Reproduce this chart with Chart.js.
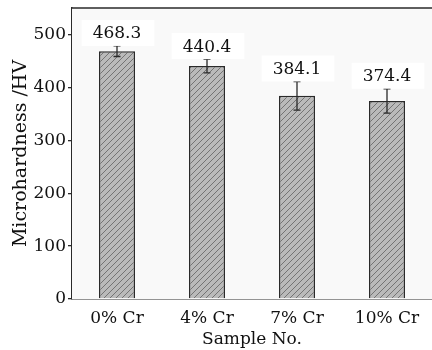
<!DOCTYPE html>
<html>
<head>
<meta charset="utf-8">
<script src="https://cdn.jsdelivr.net/npm/chart.js@4/dist/chart.umd.min.js"></script>
<style>
  html, body { margin: 0; padding: 0; background: #ffffff; }
  #wrap { width: 432px; height: 350px; }
</style>
</head>
<body>
<div id="wrap"><canvas id="c" width="432" height="350"></canvas></div>
<script>
// Microhardness of samples with different Cr content
const categories = ['0% Cr', '4% Cr', '7% Cr', '10% Cr'];
const hardness = [468.3, 440.4, 384.1, 374.4];
const hardnessErr = [10, 13, 27, 23];
const yTicks = [0, 100, 200, 300, 400, 500];

const FONT = "'DejaVu Serif', serif";
const INK = '#2a2a2a';

// Diagonal hatch fill for the bars
function hatchPattern() {
  const s = 6;
  const t = document.createElement('canvas');
  t.width = s; t.height = s;
  const g = t.getContext('2d');
  g.fillStyle = '#bababa';
  g.fillRect(0, 0, s, s);
  g.strokeStyle = '#747474';
  g.lineWidth = 1;
  g.beginPath();
  g.moveTo(-1, s + 1); g.lineTo(s + 1, -1);
  g.moveTo(-1, 1); g.lineTo(1, -1);
  g.moveTo(s - 1, s + 1); g.lineTo(s + 1, s - 1);
  g.stroke();
  return g.createPattern(t, 'repeat');
}

// Error bars, value labels and the top frame line
const extras = {
  id: 'extras',
  beforeDatasetsDraw(chart) {
    const { ctx, chartArea } = chart;
    ctx.save();
    ctx.fillStyle = '#f9f9f9';
    ctx.fillRect(chartArea.left, chartArea.top, chartArea.right - chartArea.left, chartArea.bottom - chartArea.top);
    ctx.restore();
  },
  afterDatasetsDraw(chart) {
    const { ctx, chartArea } = chart;
    const meta = chart.getDatasetMeta(0);
    const ys = chart.scales.y;
    ctx.save();
    // top frame
    ctx.strokeStyle = INK;
    ctx.lineWidth = 1.5;
    ctx.beginPath();
    ctx.moveTo(chartArea.left, chartArea.top);
    ctx.lineTo(chartArea.right, chartArea.top);
    ctx.stroke();

    meta.data.forEach((bar, i) => {
      const x = bar.x;
      const v = hardness[i];
      const e = hardnessErr[i];
      const yTop = ys.getPixelForValue(v + e);
      const yBot = ys.getPixelForValue(v - e);
      ctx.strokeStyle = INK;
      ctx.lineWidth = 1.3;
      ctx.beginPath();
      ctx.moveTo(x, yTop); ctx.lineTo(x, yBot);
      ctx.moveTo(x - 3.5, yTop); ctx.lineTo(x + 3.5, yTop);
      ctx.moveTo(x - 3.5, yBot); ctx.lineTo(x + 3.5, yBot);
      ctx.stroke();

      const label = v.toFixed(1);
      ctx.font = '17px ' + FONT;
      const w = ctx.measureText(label).width;
      const cy = yTop - 13;
      ctx.fillStyle = '#ffffff';
      ctx.fillRect(x - w / 2 - 11, cy - 13, w + 24, 26);
      ctx.fillStyle = '#111111';
      ctx.textAlign = 'center';
      ctx.textBaseline = 'middle';
      ctx.fillText(label, x, cy + 1);
    });
    ctx.restore();
  }
};

const ctx = document.getElementById('c').getContext('2d');
new Chart(ctx, {
  type: 'bar',
  data: {
    labels: categories,
    datasets: [{
      data: hardness,
      backgroundColor: hatchPattern(),
      borderColor: INK,
      borderWidth: 1.5,
      barPercentage: 0.4,
      categoryPercentage: 1.0
    }]
  },
  options: {
    responsive: false,
    animation: false,
    devicePixelRatio: 1,
    layout: { padding: { top: 8, right: 0, left: 0, bottom: 0 } },
    plugins: { legend: { display: false }, tooltip: { enabled: false } },
    scales: {
      x: {
        grid: { display: false, drawTicks: false },
        border: { color: INK, width: 1.5 },
        ticks: { color: '#111', font: { family: FONT, size: 17 }, padding: 9 },
        title: { display: true, text: 'Sample No.', color: '#111', font: { family: FONT, size: 17 }, padding: { top: 0, bottom: 0 } },
        afterFit(s) { s.height = 51; s.paddingLeft = 0; s.paddingRight = 0; }
      },
      y: {
        min: 0, max: 550,
        afterBuildTicks(s) { s.ticks = yTicks.map(v => ({ value: v })); },
        grid: { display: true, drawOnChartArea: false, drawTicks: true, tickLength: 4, color: INK, lineWidth: 1.3 },
        border: { color: INK, width: 1.5 },
        ticks: { color: '#111', font: { family: FONT, size: 17 }, padding: 2 },
        title: { display: true, text: 'Microhardness /HV', color: '#111', font: { family: FONT, size: 19 }, padding: { top: 10, bottom: 4 } },
        afterFit(s) { s.width = 72; s.paddingTop = 0; s.paddingBottom = 0; }
      }
    }
  },
  plugins: [extras]
});
</script>
</body>
</html>
